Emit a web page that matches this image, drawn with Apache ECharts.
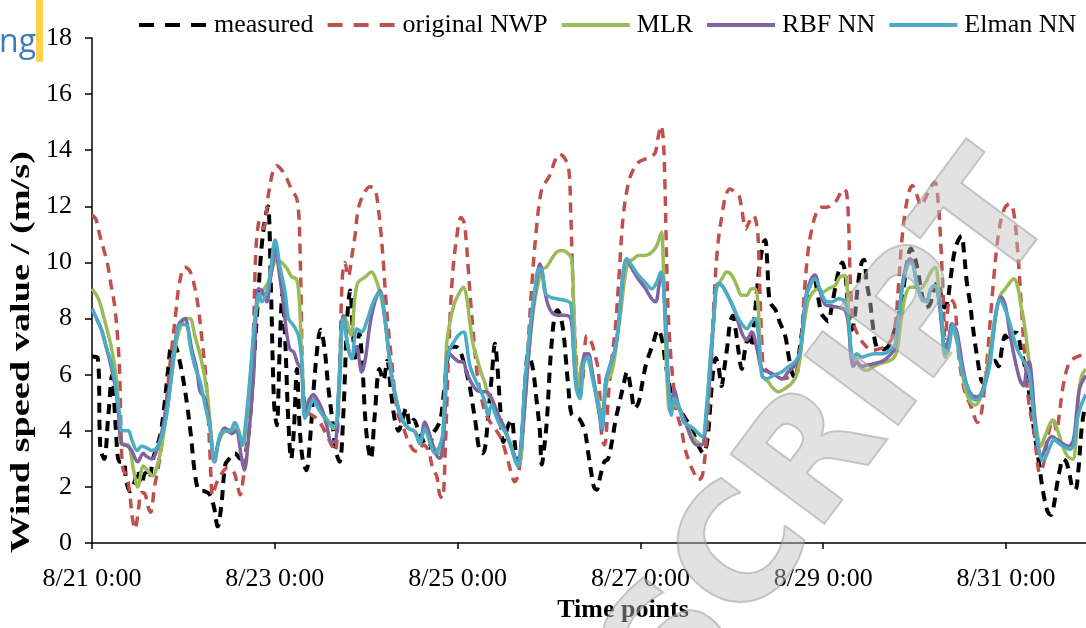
<!DOCTYPE html>
<html><head><meta charset="utf-8">
<script src="https://cdn.jsdelivr.net/npm/echarts@6/dist/echarts.min.js"></script>
<style>html,body{margin:0;padding:0;background:#fff}#c{width:1086px;height:628px}</style>
</head><body><div id="c"></div>
<script>
// Time is in hours since 8/21 0:00
const seriesNames = ['measured', 'original NWP', 'MLR', 'RBF NN', 'Elman NN'];
const firstDay = 21;      // August 21
const tickHours = 48;     // one label every 2 days
const yTickStep = 2;
const yTitle = 'Wind speed value / (m/s)';
const xTitle = 'Time points';

const measured = [[0,6.65],[1.5,6.6],[2.2,3.4],[3.2,3.0],[4.2,4.4],[5.3,6.0],[6.2,4.2],[7.2,2.9],[8.3,2.9],[9.0,2.2],[10.0,1.85],[11.0,2.1],[12.0,2.6],[13.0,2.1],[14.0,2.5],[15.0,2.3],[16.0,3.0],[17.0,3.4],[18.0,3.9],[19.0,4.9],[20.0,6.2],[21.0,7.1],[22.0,7.0],[23.0,6.5],[24.0,5.8],[25.0,4.9],[26.0,3.8],[27.0,2.5],[28.0,1.9],[29.5,1.85],[30.8,1.75],[32.0,1.3],[33.0,0.6],[34.0,1.4],[35.0,2.8],[36.0,3.0],[37.5,3.2],[39.0,3.0],[40.5,3.3],[41.5,4.5],[42.5,6.5],[43.5,8.5],[44.5,10.5],[45.5,11.6],[46.2,12.0],[47.0,9.0],[47.8,5.0],[48.5,4.2],[49.3,7.0],[50.0,8.9],[50.8,7.0],[51.5,4.5],[52.3,3.0],[53.0,4.0],[53.8,6.2],[54.5,4.2],[55.3,3.0],[56.3,2.6],[57.2,3.6],[58.2,5.5],[59.2,7.0],[60.0,7.6],[61.0,7.0],[62.0,5.6],[63.0,4.5],[64.0,3.3],[65.0,2.9],[66.0,4.6],[67.0,8.0],[67.8,9.0],[68.5,7.5],[69.3,6.5],[70.2,7.5],[71.0,6.3],[72.0,4.0],[73.2,3.0],[74.2,4.5],[75.5,6.2],[76.5,5.8],[77.5,6.5],[78.5,5.4],[79.5,4.4],[80.5,4.0],[81.5,4.4],[82.5,4.8],[83.5,4.2],[84.5,4.4],[85.5,4.1],[86.5,3.8],[87.5,3.5],[88.5,3.4],[89.5,3.9],[90.5,4.1],[91.5,4.4],[92.5,5.5],[93.5,6.7],[94.5,7.0],[95.5,7.0],[96.5,6.9],[97.5,6.5],[98.5,6.0],[99.3,5.5],[100.0,4.9],[100.8,4.2],[101.6,3.4],[102.5,3.2],[103.2,3.4],[104.0,4.5],[105.0,6.0],[105.8,7.1],[106.5,6.2],[107.2,4.8],[108.0,3.6],[109.3,4.2],[110.2,4.4],[110.8,3.8],[111.5,3.1],[112.2,2.9],[113.0,4.0],[113.8,5.8],[114.5,6.7],[115.3,6.5],[116.0,6.0],[116.8,5.0],[117.6,4.0],[118.1,2.8],[118.9,3.6],[119.5,4.5],[120.2,6.2],[120.8,7.3],[121.5,8.1],[122.2,8.3],[123.0,8.1],[123.8,7.5],[124.4,6.6],[125.1,5.5],[125.9,4.6],[127.0,4.5],[128.1,4.4],[129.4,4.0],[130.2,3.3],[131.0,2.6],[131.8,2.0],[132.5,1.9],[133.5,2.4],[134.5,2.9],[135.5,3.0],[136.5,3.6],[137.5,4.4],[138.5,5.0],[139.5,5.6],[140.5,6.1],[141.5,5.5],[142.5,4.8],[143.5,5.0],[144.5,5.7],[145.5,6.4],[146.5,6.8],[147.5,7.2],[148.6,7.6],[149.6,7.3],[150.5,6.5],[151.5,5.7],[152.5,5.1],[153.5,4.8],[154.5,4.7],[155.5,4.5],[156.5,4.3],[157.5,4.1],[158.5,3.7],[159.5,3.4],[160.5,3.2],[161.5,3.6],[162.3,4.8],[163.0,6.0],[163.8,6.6],[164.5,6.3],[165.3,5.6],[166.0,6.2],[166.8,7.0],[167.6,7.9],[168.3,8.1],[169.0,7.6],[169.8,6.8],[170.6,6.2],[171.5,6.9],[172.3,7.3],[173.0,7.0],[173.8,7.8],[174.6,9.0],[175.4,10.0],[176.3,10.7],[176.8,10.8],[177.3,10.0],[178.0,8.6],[179.5,8.3],[180.5,7.9],[182.0,7.4],[183.0,6.6],[184.0,6.0],[184.8,5.9],[185.5,6.6],[186.5,7.6],[187.5,8.6],[188.5,9.2],[189.5,9.5],[190.5,8.9],[191.5,8.2],[192.5,8.0],[193.3,7.9],[194.2,8.4],[195.1,9.06],[196.0,9.66],[197.0,10.0],[197.8,9.6],[198.6,8.3],[199.5,7.6],[200.3,8.1],[201.2,9.3],[202.1,10.0],[202.7,10.1],[203.4,9.3],[204.3,8.6],[205.0,7.8],[206.0,7.0],[207.5,6.9],[209.0,7.0],[210.0,7.3],[211.0,7.7],[212.0,8.2],[213.0,9.0],[214.0,10.0],[215.0,10.5],[216.0,10.2],[217.0,9.6],[218.0,8.8],[219.0,8.4],[220.0,8.5],[221.0,9.0],[222.0,9.3],[223.0,8.8],[223.8,8.4],[224.6,8.6],[225.5,9.5],[226.5,10.4],[227.5,10.8],[228.3,10.95],[229.0,10.3],[229.7,9.3],[230.5,8.6],[231.2,7.8],[232.0,7.0],[232.8,6.3],[233.5,5.8],[234.2,5.7],[235.0,6.1],[236.0,6.5],[237.0,6.5],[238.0,6.3],[239.0,7.0],[239.8,7.4],[240.8,7.2],[241.8,7.5],[242.8,7.5],[243.8,7.0],[244.8,6.4],[245.8,5.6],[246.8,4.6],[247.8,3.6],[248.6,2.9],[249.4,2.1],[250.2,1.5],[251.0,1.1],[251.8,1.0],[252.5,1.3],[253.3,2.0],[254.1,2.6],[255.0,3.0],[255.8,2.9],[256.6,2.5],[257.4,2.0],[258.2,1.9],[259.0,2.6],[259.8,4.0],[260.5,4.7],[261,4.9]];

const nwp = [[0,11.7],[1,11.55],[2,11.0],[3,10.5],[4,10.0],[5,9.2],[6,8.4],[6.9,7.0],[7.3,5.9],[7.7,3.5],[8.2,2.6],[9.0,2.45],[9.8,1.9],[10.6,0.9],[11.3,0.5],[12.2,1.2],[12.9,1.8],[13.9,1.75],[14.7,1.3],[15.4,1.1],[16.4,2.0],[17.4,2.7],[18.4,3.6],[19.3,4.7],[20.2,6.0],[21.0,7.0],[22.0,8.2],[23.0,9.3],[24.4,9.83],[25.7,9.7],[27.0,9.1],[28.0,8.3],[29.0,7.1],[29.9,5.9],[30.5,4.6],[31.0,3.1],[31.7,1.7],[32.6,2.1],[33.7,2.4],[35.4,2.67],[37.2,2.55],[38.2,2.05],[38.9,1.72],[39.7,2.3],[40.6,3.5],[41.5,5.3],[42.4,7.6],[43.1,10.6],[44.1,11.5],[45.0,11.2],[46.3,12.4],[47.6,13.3],[48.5,13.45],[49.8,13.3],[51.1,13.0],[52.4,12.6],[53.7,12.3],[54.3,11.7],[54.6,10.6],[54.9,8.8],[55.2,6.46],[55.8,5.04],[56.4,4.68],[57.7,4.56],[59.0,4.44],[60.3,4.2],[61.6,3.85],[62.9,3.5],[63.8,3.26],[64.5,4.1],[65.1,6.46],[65.7,9.4],[66.4,10.0],[67.3,9.5],[68.2,10.2],[69.1,11.0],[69.9,11.9],[71.2,12.4],[73.0,12.7],[74.3,12.6],[75.2,11.9],[75.9,11.0],[76.5,10.0],[77.1,8.8],[77.8,7.64],[78.7,6.46],[79.6,5.27],[80.4,4.56],[81.8,4.09],[83.1,3.61],[84.4,3.32],[85.7,3.26],[87.0,3.5],[88.3,3.3],[89.6,2.6],[90.5,2.4],[91.3,1.72],[92.0,1.6],[92.8,3.5],[93.7,7.05],[94.6,9.42],[95.7,10.84],[96.9,11.6],[97.7,11.43],[98.3,10.7],[98.8,9.77],[99.5,8.47],[100.4,7.05],[101.2,5.98],[102.1,5.27],[103.2,4.68],[104.5,4.32],[105.8,4.09],[107.4,3.73],[108.8,3.14],[110.0,2.55],[111.0,2.19],[112.1,2.55],[113.2,4.32],[114.5,7.05],[115.6,9.42],[116.7,11.2],[117.9,12.5],[119.1,12.86],[120.2,13.1],[121.4,13.57],[122.6,13.86],[124.0,13.74],[125.2,13.3],[125.7,11.8],[126.1,10.0],[126.5,8.23],[127.1,6.7],[127.8,5.7],[128.8,5.8],[129.9,7.4],[131.0,7.2],[132.1,6.7],[133.0,6.1],[133.9,3.7],[134.6,3.5],[135.6,5.27],[136.5,6.58],[137.4,7.64],[138.4,9.54],[139.5,11.67],[140.9,12.86],[142.2,13.33],[143.5,13.57],[145.2,13.68],[146.5,13.74],[147.9,13.92],[148.7,14.5],[149.4,14.87],[150.0,14.4],[150.4,12.97],[150.7,11.2],[151.0,9.42],[151.4,7.88],[152.1,6.46],[152.8,5.5],[153.5,4.68],[154.7,4.09],[155.7,3.38],[156.8,2.9],[157.9,2.55],[159.2,2.25],[160.3,2.43],[161.4,3.85],[162.6,6.46],[163.4,8.83],[164.3,10.6],[165.4,11.67],[166.4,12.38],[167.5,12.62],[168.9,12.5],[169.9,12.38],[170.6,11.9],[171.7,11.2],[172.5,11.43],[173.7,11.67],[174.6,11.3],[175.0,10.6],[175.4,8.83],[175.9,7.05],[176.3,6.34],[177.6,6.1],[179.4,5.98],[181.1,5.86],[183.3,5.92],[185.0,6.1],[186.2,7.17],[187.0,8.83],[187.9,10.25],[189.0,11.2],[190.3,11.79],[191.6,11.97],[192.9,11.97],[195.1,12.14],[196.4,12.44],[197.4,12.62],[198.1,12.5],[198.6,11.67],[198.9,10.25],[199.3,8.83],[199.9,7.88],[201.2,7.4],[203.0,7.05],[204.7,6.87],[206.9,6.93],[208.6,7.05],[210.0,7.29],[211.0,7.88],[211.7,9.06],[212.6,10.72],[213.5,11.79],[214.5,12.5],[215.4,12.74],[216.5,12.44],[217.7,12.03],[218.7,12.26],[220.0,12.62],[221.3,12.86],[222.2,12.14],[222.9,10.6],[223.5,8.83],[224.0,7.3],[225.3,8.7],[226.5,8.5],[227.5,6.8],[229.0,5.5],[231.0,4.8],[232.5,4.3],[233.5,4.6],[235.0,6.5],[236.5,9.0],[238.0,11.0],[239.5,11.9],[241.0,12.1],[242.0,11.8],[243.0,10.5],[244.0,8.5],[245.0,6.5],[246.0,5.0],[247.5,3.8],[248.9,2.5],[250.0,2.9],[251.0,3.8],[252.4,4.4],[253.3,4.0],[254.0,4.6],[255.0,5.6],[256.5,6.4],[258.0,6.6],[261,6.75]];

const mlr = [[0,9.06],[1.7,8.7],[3.4,7.9],[5.2,6.9],[6.5,5.75],[7.2,4.2],[7.5,3.55],[9.5,3.5],[10.9,2.6],[12.0,2.0],[13.5,2.75],[14.5,2.6],[15.9,2.4],[17.4,2.9],[18.7,3.8],[20.5,5.5],[22.2,7.2],[23.5,7.8],[24.5,8.0],[25.7,8.0],[27.0,7.4],[28.8,6.46],[30.1,5.5],[31.0,4.3],[31.7,3.2],[32.2,2.9],[33.2,3.6],[34.9,4.0],[36.7,4.05],[37.5,4.1],[38.6,3.9],[39.5,3.5],[40.2,3.8],[41.5,5.8],[42.8,7.9],[43.9,8.8],[44.6,8.95],[46.3,9.3],[47.6,9.9],[48.5,10.1],[49.8,10.0],[51.1,9.8],[52.4,9.5],[53.7,9.4],[54.4,8.8],[55.1,6.46],[55.9,4.56],[57.2,5.15],[58.6,5.15],[59.9,4.8],[61.6,4.44],[63.4,4.09],[64.2,4.15],[65.1,5.86],[66.0,8.1],[66.9,7.88],[68.0,7.4],[69.1,8.83],[69.9,9.3],[71.7,9.48],[73.4,9.66],[74.3,9.48],[75.6,8.95],[76.9,8.0],[77.8,6.93],[78.7,5.98],[80.0,5.04],[81.3,4.44],[83.1,4.09],[84.8,3.97],[86.1,3.6],[87.4,4.2],[88.7,3.73],[90.0,3.38],[91.3,3.2],[92.2,4.09],[93.1,7.05],[94.0,7.88],[95.3,8.59],[96.6,8.95],[97.5,9.12],[98.3,8.83],[99.2,7.88],[100.1,7.05],[101.0,6.63],[102.1,6.1],[103.2,5.69],[104.0,5.27],[104.9,5.15],[106.0,4.8],[107.1,4.38],[108.4,4.03],[109.7,3.55],[111.0,3.08],[112.2,2.84],[113.2,4.09],[114.5,6.46],[115.8,8.23],[117.2,9.3],[118.2,9.77],[119.3,9.83],[120.7,10.13],[122.0,10.37],[123.3,10.43],[124.6,10.37],[125.9,10.13],[126.4,8.83],[127.0,6.46],[127.7,5.39],[128.5,6.34],[129.6,6.63],[130.7,6.34],[132.0,5.6],[133.0,5.04],[133.9,4.32],[135.2,5.75],[136.5,6.1],[137.4,6.8],[138.7,8.1],[140.0,9.54],[140.9,10.0],[142.2,10.13],[143.5,10.25],[145.2,10.25],[147.0,10.37],[148.3,10.6],[149.2,10.96],[149.6,11.08],[150.0,10.0],[150.5,7.64],[151.2,5.27],[151.8,4.68],[152.7,4.92],[154.0,4.8],[155.7,4.32],[157.5,3.85],[158.8,3.61],[160.1,3.5],[161.4,4.68],[162.3,6.46],[163.2,7.88],[164.0,9.06],[165.4,9.42],[166.7,9.66],[168.0,9.54],[169.3,9.18],[170.6,8.83],[171.9,8.83],[173.2,9.06],[174.1,9.06],[175.0,8.23],[175.9,5.98],[177.6,5.75],[178.5,5.57],[180.2,5.39],[182.0,5.51],[183.7,5.69],[185.0,5.98],[185.9,6.58],[186.8,7.64],[188.1,8.65],[189.4,8.95],[190.7,9.06],[192.0,8.95],[193.3,9.06],[195.1,9.18],[196.4,9.48],[197.7,9.54],[198.4,8.83],[199.0,7.29],[199.6,6.46],[200.5,6.58],[201.6,6.28],[203.4,6.16],[205.1,6.28],[206.9,6.4],[208.6,6.46],[210.4,6.58],[211.5,6.93],[212.4,7.88],[213.5,8.77],[214.8,9.12],[216.1,9.12],[217.4,9.06],[218.7,9.24],[220.0,9.6],[221.4,9.83],[222.3,9.06],[223.2,7.64],[224.0,6.63],[224.9,6.93],[225.8,7.64],[226.9,7.29],[228.2,6.34],[229.3,5.51],[230.6,5.04],[231.9,4.92],[233.2,5.15],[234.5,5.86],[235.9,6.93],[237.2,8.12],[238.5,8.83],[239.8,9.06],[241.1,9.3],[242.0,9.42],[243.0,9.18],[243.9,8.47],[244.6,8.0],[245.4,7.2],[246.3,6.14],[247.2,4.97],[248.2,3.92],[249.1,3.45],[250.2,3.8],[251.6,4.27],[252.4,4.39],[253.5,4.04],[254.6,3.57],[256.1,3.1],[257.5,2.99],[258.4,3.69],[259.0,5.21],[259.9,5.97],[261,6.2]];

const rbf = [[0,8.35],[1.2,8.0],[2.5,7.6],[3.9,6.9],[5.0,6.3],[6.2,5.5],[7.0,4.6],[7.8,3.56],[9.5,3.45],[10.4,3.3],[12.0,2.9],[13.5,3.2],[14.2,3.1],[15.7,3.0],[17.0,3.3],[18.7,4.2],[20.0,5.3],[21.4,6.7],[22.7,7.76],[24.4,8.0],[25.3,7.6],[26.2,6.9],[27.5,6.2],[28.4,5.4],[29.7,5.15],[31.0,4.1],[32.1,2.9],[33.2,3.6],[34.9,4.1],[36.7,3.9],[37.8,4.0],[39.3,3.0],[40.0,2.6],[41.0,3.6],[42.4,5.9],[43.7,9.06],[44.6,9.0],[45.9,8.6],[46.7,9.3],[47.5,10.0],[48.1,10.5],[49.2,9.6],[50.2,8.6],[51.1,7.5],[52.0,6.9],[53.0,6.8],[54.0,6.4],[55.0,6.2],[55.9,4.5],[56.8,5.0],[58.1,5.3],[59.0,5.15],[60.3,4.8],[61.6,4.2],[62.9,3.6],[63.8,3.6],[64.7,5.27],[66.0,8.1],[67.3,6.93],[68.2,6.6],[69.5,7.0],[70.2,6.5],[70.8,6.1],[71.7,6.5],[73.0,7.8],[74.3,8.6],[75.6,9.0],[76.9,8.0],[77.8,6.93],[78.7,5.9],[80.0,5.04],[81.3,4.44],[83.1,4.09],[84.8,3.97],[86.1,3.55],[87.4,4.32],[88.7,3.85],[90.0,3.26],[91.3,3.02],[92.0,3.26],[92.7,4.68],[93.5,6.81],[94.8,6.63],[96.6,6.46],[97.5,6.46],[98.3,6.1],[99.7,5.69],[101.0,5.45],[102.3,5.39],[103.6,5.39],[104.5,5.27],[105.3,5.04],[106.7,4.56],[108.0,4.2],[109.3,3.73],[110.6,3.26],[111.7,2.9],[112.6,3.38],[113.5,4.68],[114.5,6.46],[115.6,8.12],[116.7,9.3],[117.6,9.95],[118.5,9.42],[119.4,8.65],[120.7,8.23],[122.4,8.12],[124.2,8.12],[125.7,8.0],[126.4,6.93],[127.2,5.5],[128.1,5.39],[129.2,6.69],[130.3,6.75],[131.2,6.22],[132.3,5.3],[133.2,4.6],[133.9,4.0],[134.9,5.8],[136.0,6.3],[137.4,6.93],[138.4,8.0],[139.5,9.66],[140.4,10.1],[141.7,9.8],[143.5,9.4],[145.2,9.1],[147.0,8.7],[148.0,8.6],[149.0,9.3],[149.5,9.55],[150.0,9.3],[150.7,7.64],[151.4,5.6],[152.1,4.9],[152.9,5.45],[154.0,4.9],[155.7,4.35],[157.5,3.7],[158.8,3.5],[160.1,3.5],[161.4,4.68],[162.6,6.6],[163.2,7.9],[164.3,9.24],[165.4,9.18],[167.0,8.8],[168.7,8.3],[170.6,7.5],[171.9,7.23],[173.2,7.52],[174.6,6.93],[175.9,6.2],[177.6,6.1],[179.4,5.98],[181.1,5.85],[182.8,6.1],[184.6,6.35],[185.9,6.8],[186.8,7.9],[187.6,8.9],[189.0,9.45],[189.8,9.55],[191.1,9.0],[192.5,8.5],[194.2,8.45],[196.0,8.4],[197.7,8.3],[198.6,7.8],[199.3,6.7],[199.9,6.3],[200.8,6.45],[202.1,6.3],[203.8,6.35],[205.6,6.4],[207.8,6.5],[209.5,6.7],[210.8,6.95],[211.7,7.88],[212.6,9.0],[213.6,9.8],[214.8,10.13],[215.6,9.95],[216.5,9.3],[217.8,8.75],[219.2,8.65],[220.1,9.0],[221.2,9.18],[222.3,8.7],[223.2,7.64],[224.0,6.93],[225.0,7.3],[225.8,7.82],[227.1,7.52],[228.4,6.46],[229.7,5.63],[231.0,5.27],[232.4,5.21],[233.7,5.39],[235.0,5.98],[236.3,7.05],[237.6,8.35],[238.7,8.77],[239.8,8.47],[241.1,7.4],[242.4,6.5],[243.7,5.8],[244.6,5.6],[245.4,6.2],[246.1,6.45],[246.8,5.8],[247.6,4.3],[248.5,3.34],[249.4,3.1],[250.7,3.57],[252.0,3.8],[253.3,3.69],[254.6,3.57],[256.4,3.45],[257.7,3.69],[258.6,4.74],[259.4,5.55],[261,5.97]];

const elman = [[0,8.35],[1.2,8.0],[2.5,7.6],[3.9,6.9],[4.7,6.6],[6.0,5.8],[6.6,5.2],[7.4,4.4],[7.8,4.0],[9.5,4.0],[10.4,3.7],[11.9,3.3],[13.0,3.45],[14.2,3.4],[15.7,3.3],[17.0,3.4],[18.3,3.8],[19.6,4.6],[20.9,6.0],[22.2,7.4],[23.3,7.8],[24.9,7.75],[25.7,7.1],[27.0,6.3],[28.4,5.75],[29.7,4.9],[31.0,4.1],[32.1,2.9],[32.7,3.2],[33.6,3.85],[34.9,4.0],[36.2,3.97],[37.5,4.3],[38.6,3.97],[39.5,3.5],[40.2,4.1],[41.5,5.9],[42.8,8.0],[43.9,8.9],[44.6,8.6],[45.9,8.95],[46.7,9.5],[48.1,10.8],[49.4,9.8],[50.7,8.95],[51.6,8.0],[52.9,7.76],[54.2,7.4],[55.1,6.46],[55.9,4.44],[56.8,4.68],[58.1,5.1],[59.4,4.8],[61.2,4.44],[62.5,4.27],[63.8,4.15],[64.7,5.27],[66.0,8.0],[67.3,6.93],[68.2,6.58],[69.5,7.64],[70.8,7.52],[72.1,7.88],[73.9,8.6],[75.6,8.95],[76.9,8.0],[77.8,6.93],[78.7,5.98],[80.0,5.04],[81.3,4.44],[83.1,4.09],[84.8,3.97],[86.1,3.55],[87.4,4.09],[88.7,3.6],[90.0,3.2],[91.1,3.4],[92.2,3.97],[93.1,6.46],[94.0,6.93],[95.3,7.23],[96.6,7.46],[97.7,7.52],[98.3,7.17],[99.2,6.34],[100.5,5.86],[101.8,5.5],[103.2,5.04],[104.0,4.56],[104.9,4.92],[106.0,4.56],[107.1,4.2],[108.4,3.97],[109.7,3.61],[110.9,3.02],[111.9,2.73],[112.8,3.85],[113.7,5.75],[115.0,7.64],[116.3,9.06],[117.3,9.77],[118.0,9.77],[118.9,8.95],[120.2,8.77],[122.4,8.7],[124.2,8.65],[125.7,8.53],[126.4,7.05],[127.2,5.5],[128.1,5.15],[129.2,6.46],[130.3,6.63],[131.2,6.0],[132.3,5.3],[133.2,4.7],[133.9,4.1],[134.9,5.75],[136.0,6.34],[137.4,6.93],[138.4,8.0],[139.5,9.66],[140.4,10.13],[141.7,9.89],[143.5,9.54],[145.2,9.3],[147.0,9.06],[148.3,9.3],[149.4,9.66],[150.0,9.3],[150.7,7.64],[151.4,5.5],[152.1,4.56],[152.9,5.15],[154.0,4.92],[155.3,4.32],[156.6,4.2],[157.9,4.09],[159.2,3.91],[160.3,3.79],[161.4,4.92],[162.3,6.46],[163.2,7.88],[164.3,9.24],[165.4,9.18],[166.7,8.89],[168.0,8.53],[169.3,8.12],[170.6,7.82],[171.9,7.64],[173.2,7.88],[174.1,8.0],[175.0,7.41],[175.9,5.98],[177.2,5.86],[178.9,5.98],[181.1,6.1],[182.8,6.28],[184.6,6.46],[185.9,6.81],[186.8,7.88],[187.6,8.83],[189.0,9.3],[189.8,9.42],[191.1,9.06],[192.5,8.65],[194.2,8.59],[196.0,8.71],[197.7,8.59],[198.6,8.0],[199.3,6.93],[199.9,6.58],[200.8,6.75],[202.1,6.63],[203.8,6.7],[205.6,6.75],[207.8,6.75],[209.5,6.87],[210.8,7.05],[211.7,7.88],[212.6,8.95],[213.6,9.66],[214.8,10.0],[215.6,9.89],[216.5,9.3],[217.8,8.71],[219.2,8.59],[220.1,9.0],[221.2,9.18],[222.3,8.83],[223.2,7.88],[224.0,6.75],[224.9,6.93],[226.1,7.76],[227.1,7.29],[228.0,6.46],[229.3,5.75],[230.6,5.27],[231.9,5.1],[233.2,5.21],[234.5,5.63],[235.9,6.46],[237.1,8.0],[238.4,8.65],[239.7,8.36],[241.1,7.78],[242.8,6.96],[244.6,6.49],[245.9,6.14],[246.7,5.32],[247.6,4.16],[248.8,3.22],[249.6,2.93],[250.5,3.1],[251.6,3.45],[252.6,3.69],[253.7,3.57],[255.1,3.45],[256.8,3.34],[257.9,3.57],[258.7,4.39],[259.6,4.86],[261,5.3]];

const serif = '"Liberation Serif","Times New Roman",serif';
const colors = ['#000000', '#c0504d', '#9bbb59', '#8064a2', '#4bacc6'];
const dataSets = [measured, nwp, mlr, rbf, elman];
const dashed = [true, true, false, false, false];
const widths = [4, 3.5, 3.5, 3.5, 3.5];

const chart = echarts.init(document.getElementById('c'), null, {renderer: 'canvas'});
chart.setOption({
  animation: false,
  backgroundColor: '#ffffff',
  grid: {left: 92, right: 0, top: 38, bottom: 76},
  legend: {
    left: 132, top: 7, itemWidth: 68, itemHeight: 14, itemGap: 12,
    itemStyle: {opacity: 0},
    lineStyle: {width: 4},
    textStyle: {fontFamily: serif, fontSize: 26, color: '#000', padding: [0, 0, 0, 2]},
    data: seriesNames.map((n, i) => dashed[i]
      ? {name: n, lineStyle: {width: 4, type: [15, 11]}}
      : {name: n})
  },
  xAxis: {
    type: 'value', min: 0, max: 261, interval: tickHours,
    name: xTitle, nameLocation: 'middle', nameGap: 52,
    nameTextStyle: {fontFamily: serif, fontSize: 26, fontWeight: 'bold', color: '#000', padding: [0, 0, 0, 68]},
    axisLine: {lineStyle: {color: '#000', width: 1.5}},
    axisTick: {length: 6, lineStyle: {color: '#000', width: 1.5}},
    axisLabel: {
      fontFamily: serif, fontSize: 26, color: '#000', margin: 23, showMaxLabel: false,
      formatter: v => (v % tickHours === 0) ? ('8/' + (firstDay + v / 24) + ' 0:00') : ''
    },
    splitLine: {show: false}
  },
  yAxis: {
    type: 'value', min: 0, max: 18, interval: yTickStep,
    axisLine: {show: true, lineStyle: {color: '#000', width: 1.5}},
    axisTick: {show: true, length: 7, lineStyle: {color: '#000', width: 1.5}},
    axisLabel: {fontFamily: serif, fontSize: 26, color: '#000', margin: 20},
    splitLine: {show: false}
  },
  series: seriesNames.map((n, i) => ({
    name: n, type: 'line', data: dataSets[i], symbol: 'none', smooth: 0.35,
    lineStyle: {color: colors[i], width: widths[i], type: dashed[i] ? [10, 7] : 'solid'},
    itemStyle: {color: colors[i]},
    z: 2 + i
  })),
  graphic: [
    {type: 'text', x: 22, y: 352, rotation: Math.PI / 2, scaleX: 1.42, z: 30,
     style: {text: yTitle, font: 'bold 27px "Liberation Serif"', fill: '#000', align: 'center', verticalAlign: 'middle'}},
    {type: 'text', x: -1, y: 27, z: 50,
     style: {text: 'ng', font: '32px "Open Sans"', fill: '#3a7db8', verticalAlign: 'top'}},
    {type: 'line', z: 50, shape: {x1: 39.5, y1: 0, x2: 39.5, y2: 62},
     style: {stroke: '#ffd24d', lineWidth: 7}},
    {type: 'text', x: 835, y: 440, rotation: 0.93, z: 40,
     style: {text: 'SCRIPT', font: 'bold 160px "DejaVu Sans"', fill: 'rgba(190,190,190,0.45)',
             stroke: 'rgba(140,140,140,0.5)', lineWidth: 2, align: 'center', verticalAlign: 'middle'}}
  ]
});
</script></body></html>
